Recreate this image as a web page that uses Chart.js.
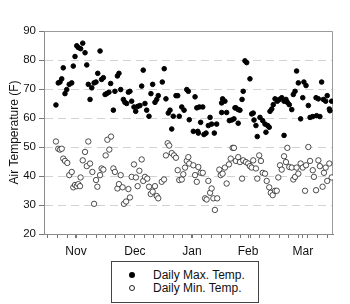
<!DOCTYPE html>
<html><head><meta charset="utf-8">
<script src="https://cdn.jsdelivr.net/npm/chart.js@4.4.0/dist/chart.umd.min.js"></script>
<style>
html,body{margin:0;padding:0;background:#fff;}
#wrap{position:relative;width:350px;height:304px;}
#legend{position:absolute;left:111px;top:261px;width:146px;height:40px;border:1px solid #444;background:#fff;font:12px 'Liberation Sans',Arial,sans-serif;color:#111;}
.row{position:absolute;left:0;height:14px;line-height:14px;white-space:nowrap;}
.mk{position:absolute;left:17px;top:4px;width:6px;height:6px;border-radius:50%;box-sizing:border-box;}
.txt{position:absolute;left:41px;top:0;}
</style></head>
<body>
<div id="wrap">
<canvas id="c" width="350" height="304"></canvas>
<div id="legend"></div>
</div>
<script>
// ---- data (x = days since Oct 15) ----
const monthLabels = ['Nov','Dec','Jan','Feb','Mar'];
const monthTickDays = [16.6, 47.2, 76.8, 105.9, 134.4];
const yTicks = [20,30,40,50,60,70,80,90];
const seriesNames = ['Daily Max. Temp.','Daily Min. Temp.'];

const maxDays = [6.2,7.4,8.3,9.2,10.0,10.9,11.8,13.1,14.4,15.2,16.1,17.0,17.8,19.0,20.1,21.3,22.2,23.0,23.9,24.8,26.0,27.0,27.9,29.1,29.9,30.8,31.7,32.5,33.7,34.6,36.0,36.8,38.1,38.9,39.8,41.2,42.0,42.9,43.8,44.6,45.5,46.7,47.6,48.6,49.8,50.7,51.5,52.4,53.3,54.5,55.5,56.4,57.6,58.5,59.3,61.4,62.4,63.3,64.5,65.4,66.3,67.1,68.5,69.4,70.2,71.5,72.7,74.1,74.9,75.4,
77.5,78.4,79.3,79.8,80.1,80.6,81.3,82.4,83.0,84.1,85.3,86.2,87.0,88.4,89.6,92.2,92.2,92.7,93.9,94.8,96.2,97.4,98.6,99.1,99.6,100.8,100.8,101.7,102.8,103.4,104.3,105.2,106.9,107.8,108.6,109.0,110.0,110.7,112.1,113.5,114.7,115.2,116.1,116.9,117.3,118.2,119.0,119.9,121.1,122.1,123.4,124.6,124.6,125.6,126.3,127.3,128.6,129.4,130.3,131.1,132.0,133.2,134.3,134.9,136.0,137.2,138.1,139.5,141.2,141.5,142.4,143.2,144.1,145.0,146.2,147.0,148.1,148.4,149.3];
const maxTemps = [64.5,72.1,72.4,73.5,77.3,68.4,69.8,71.6,72.1,77.9,81.2,84.9,84.3,83.9,85.8,82.5,78.3,71.6,66.4,70.4,72.1,72.4,75.4,83.1,73.3,73.9,68.1,68.4,68.9,71.9,62.7,69.2,74.5,75.4,69.8,66.4,65.4,65.0,68.9,69.2,65.8,63.8,62.3,64.0,64.3,71.0,76.5,65.0,62.7,60.6,68.4,71.6,65.4,66.4,67.7,72.4,77.0,66.6,61.7,62.7,56.2,60.6,67.7,67.7,60.6,63.8,62.7,69.8,69.2,59.4,
55.4,67.3,63.5,55.4,54.8,63.8,58.5,63.8,54.3,54.8,57.4,60.2,57.9,54.8,57.9,61.9,65.2,66.6,65.8,61.9,59.1,59.3,59.7,63.5,63.5,62.9,58.2,62.7,66.4,69.2,79.7,79.1,73.5,61.4,61.7,59.3,57.4,53.6,60.2,59.1,57.9,55.1,57.4,56.8,62.3,63.1,64.6,66.6,65.8,66.4,67.0,65.8,54.0,66.4,65.4,64.6,62.9,68.1,69.2,76.2,72.1,59.7,67.0,72.4,71.2,64.3,60.2,60.5,67.0,60.8,66.6,60.5,72.4,66.4,65.8,67.7,63.1,62.5,65.8];

const minDays = [6.2,7.4,8.3,9.2,10.0,10.9,12.1,13.1,14.4,15.2,16.1,17.0,17.8,18.7,19.0,20.1,21.3,22.2,23.0,23.9,25.1,26.0,27.0,27.7,29.1,29.9,30.8,32.0,32.9,33.9,34.8,36.0,36.8,38.1,38.9,39.8,40.8,41.5,42.6,43.8,44.6,45.5,46.7,47.7,48.6,49.5,50.7,51.5,52.4,53.6,54.5,55.4,56.4,57.6,58.5,59.3,61.1,62.3,63.3,64.2,65.0,66.3,67.5,68.5,69.4,70.2,71.5,72.3,73.2,74.1,74.9,75.4,
77.5,78.4,79.3,80.1,81.3,82.4,83.6,84.4,85.3,86.2,87.0,87.9,88.7,89.9,91.0,91.7,92.7,93.9,94.8,96.0,96.9,97.9,98.6,99.6,100.8,101.7,102.8,103.4,104.8,106.0,106.9,107.8,108.6,110.0,110.7,111.7,112.6,113.5,114.7,115.6,116.9,117.7,118.7,119.9,120.8,121.6,122.5,123.4,124.6,125.6,126.3,127.3,128.6,129.4,130.3,131.1,132.0,133.2,134.3,135.5,136.0,137.2,138.1,139.5,140.1,141.2,142.4,143.2,144.6,145.3,146.2,147.0,148.1,149.3];
const minTemps = [51.9,49.4,49.1,49.4,46.0,45.2,44.5,40.3,41.4,36.1,36.9,36.5,37.2,36.5,39.5,45.4,48.3,43.4,51.9,44.3,41.4,30.4,38.6,36.3,40.3,42.6,42.2,47.1,52.5,49.1,53.6,42.6,41.4,35.7,37.2,40.3,36.1,30.4,31.2,35.5,32.6,39.7,44.0,39.5,36.5,41.8,45.7,38.3,39.7,39.1,36.3,33.8,34.6,36.5,33.1,32.3,38.0,38.8,47.1,51.3,50.5,47.9,47.1,46.3,42.0,38.6,38.8,40.6,42.9,45.2,46.5,44.3,
43.7,40.3,38.0,43.1,41.1,41.1,32.3,31.9,38.3,34.2,35.7,32.3,28.3,32.3,42.2,40.3,40.8,42.9,37.4,44.0,46.0,49.7,49.7,45.2,46.5,44.8,39.1,45.4,44.8,44.3,43.4,42.9,45.4,42.6,39.1,47.1,45.2,41.1,40.8,38.3,36.1,34.2,33.4,34.9,34.9,39.5,43.7,42.2,46.8,44.8,49.7,43.1,42.9,38.8,39.7,42.9,40.8,44.3,42.9,34.9,43.7,50.0,45.2,42.0,39.7,35.1,45.4,43.4,36.3,41.1,42.9,38.3,44.3,39.5];

// ---- chart ----
const FONT = "'Liberation Sans', Arial, sans-serif";
const xTickVals = [];
for (let d = 2; d <= 150; d += 5) xTickVals.push(d);
monthTickDays.forEach(d => xTickVals.push(d));
xTickVals.sort((a,b)=>a-b);

const frame = {
  id: 'frame',
  beforeDatasetsDraw(chart) {
    const {ctx, chartArea: a} = chart;
    ctx.save();
    ctx.strokeStyle = '#9a9a9a';
    ctx.lineWidth = 1;
    ctx.beginPath();
    ctx.moveTo(a.left, a.top + 0.5);
    ctx.lineTo(a.right - 0.5, a.top + 0.5);
    ctx.lineTo(a.right - 0.5, a.bottom);
    ctx.stroke();
    ctx.restore();
  }
};

const chart = new Chart(document.getElementById('c'), {
  type: 'scatter',
  data: {
    datasets: [
      {
        label: seriesNames[0],
        data: maxDays.map((d,i)=>({x:d, y:maxTemps[i]})),
        backgroundColor: '#000', borderColor: '#000', borderWidth: 1, pointRadius: 2.3
      },
      {
        label: seriesNames[1],
        data: minDays.map((d,i)=>({x:d, y:minTemps[i]})),
        backgroundColor: '#fff', borderColor: '#222', borderWidth: 0.8, pointRadius: 2.7
      }
    ]
  },
  options: {
    responsive: false,
    animation: false,
    devicePixelRatio: 1,
    layout: {padding: {left: 0, top: 31, right: 17, bottom: 0}},
    plugins: {legend: {display: false}, tooltip: {enabled: false}},
    scales: {
      x: {
        type: 'linear', min: 0, max: 150,
        afterBuildTicks: s => { s.ticks = xTickVals.map(v => ({value: v})); },
        afterFit: s => { s.height = 70; },
        grid: {drawOnChartArea: false, drawTicks: true, tickLength: 4, tickColor: '#777', color: '#777'},
        border: {color: '#8a8a8a', width: 1},
        ticks: {
          autoSkip: false, maxRotation: 0, padding: 6, color: '#111',
          font: {family: FONT, size: 12},
          callback: v => { const i = monthTickDays.indexOf(v); return i >= 0 ? monthLabels[i] : ''; }
        }
      },
      y: {
        min: 20, max: 90,
        afterBuildTicks: s => { s.ticks = yTicks.map(v => ({value: v})); },
        afterFit: s => { s.width = 44; },
        grid: {
          color: c => (c.tick && (c.tick.value === 20 || c.tick.value === 90)) ? 'rgba(0,0,0,0)' : '#d2d2d2',
          tickColor: '#777', tickLength: 5, lineWidth: 1
        },
        border: {color: '#8a8a8a', width: 1, dash: [8, 5]},
        ticks: {padding: 3, color: '#111', font: {family: FONT, size: 11.5}},
        title: {display: true, text: 'Air Temperature (F)', color: '#111', font: {family: FONT, size: 12}, padding: {top: 7, bottom: 2}}
      }
    }
  },
  plugins: [frame]
});

// ---- legend (HTML) ----
const lg = document.getElementById('legend');
seriesNames.forEach((name, i) => {
  const row = document.createElement('div');
  row.className = 'row';
  row.style.top = (i === 0 ? 6 : 19) + 'px';
  row.style.width = '146px';
  const mk = document.createElement('div');
  mk.className = 'mk';
  if (i === 0) { mk.style.background = '#000'; }
  else { mk.style.background = '#fff'; mk.style.border = '1px solid #222'; }
  const tx = document.createElement('div');
  tx.className = 'txt';
  tx.textContent = name;
  row.appendChild(mk); row.appendChild(tx);
  lg.appendChild(row);
});
</script>
</body></html>
